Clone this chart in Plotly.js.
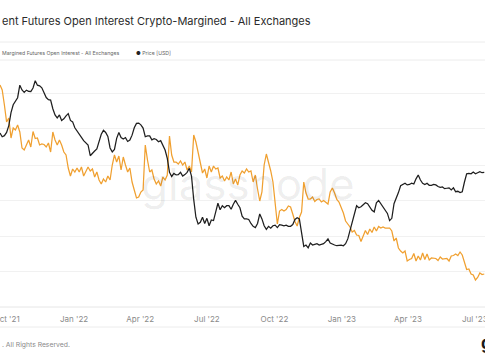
<!DOCTYPE html>
<html>
<head>
<meta charset="utf-8">
<script src="https://cdn.plot.ly/plotly-3.0.1.min.js"></script>
<style>
html,body{margin:0;padding:0;background:#fff;}
#chart{width:485px;height:360px;}
</style>
</head>
<body>
<div id="chart"></div>
<script>
// ---- data (3-day sampling, starting 2021-09-22) ----
const startDate = '2021-09-22';
const stepDays = 3;

// Percent Futures Open Interest Crypto-Margined - All Exchanges [%]
const pctCryptoMargined = [
58.4,57.4,54.4,51.0,51.8,47.8,49.8,49.4,50.4,49.0,
45.8,45.4,46.4,47.4,46.0,49.1,47.7,47.8,46.4,46.6,
46.5,46.0,46.8,45.0,49.0,47.4,46.4,47.4,46.4,45.0,
44.4,41.8,40.2,41.6,41.0,41.8,41.0,42.0,40.2,41.2,
42.0,41.2,41.6,40.0,41.0,39.4,38.6,39.6,39.0,40.2,
39.4,42.4,44.4,43.0,44.2,41.4,44.0,42.4,41.0,41.8,
39.0,37.4,35.8,36.0,37.0,37.4,46.4,43.4,41.0,41.4,
39.6,38.6,39.2,38.2,40.0,39.4,40.4,48.2,44.4,43.0,
43.0,42.6,43.2,42.4,43.0,41.4,42.2,41.0,48.4,47.0,
45.0,43.0,40.8,41.6,39.8,42.2,41.0,42.2,41.6,41.8,
39.8,40.2,39.2,40.0,39.4,41.0,38.6,39.6,38.4,40.4,
41.2,40.8,41.6,41.0,41.2,39.0,40.4,37.6,35.2,37.0,
42.4,44.6,43.0,41.2,39.0,34.4,30.6,33.2,33.5,33.2,
33.5,34.2,34.0,32.6,31.1,30.2,31.9,33.0,39.0,36.8,
35.6,35.6,36.0,35.1,35.5,35.6,35.0,35.3,34.9,34.6,
37.0,37.8,36.8,35.5,35.0,33.9,32.8,31.2,30.7,30.0,
29.0,29.3,28.4,28.3,27.1,28.3,29.3,28.5,29.6,28.9,
30.0,29.2,30.1,29.8,30.0,29.8,29.8,29.8,29.2,27.2,
27.8,25.8,25.2,24.8,25.2,23.2,23.5,23.7,24.7,23.2,
24.2,23.4,24.8,23.5,24.6,23.4,23.8,23.7,23.7,23.3,
24.0,23.6,23.6,23.7,23.2,24.2,24.3,24.6,24.3,25.0,
24.4,22.9,21.5,21.6,20.6,20.4,19.4,19.9,20.8,20.5,
20.6
];

// Price [USD]
const priceUSD = [
43600,42200,42600,43800,46500,52000,55700,57400,59200,66000,
63300,62000,63200,62600,62500,64400,68600,66000,65600,64500,
61500,59300,58200,58000,53800,51000,49700,51000,48600,49300,
50600,51600,48600,48000,45600,44200,43100,42000,40800,40100,
39300,35800,36700,37300,38000,40500,43100,44600,43800,42300,
38300,37000,37800,41600,43800,41900,41400,41900,40500,41000,
42800,45600,47400,47500,46800,45500,42200,42500,42500,41100,
41500,41200,40400,40800,39400,37600,35000,31000,29900,30700,
30300,30400,31000,30000,30400,31000,32100,30000,24500,21000,
19800,20100,21000,19900,20800,19500,20500,20400,22000,23700,
22400,23200,22800,23200,23200,22500,23500,24300,23500,22800,
21200,20700,20700,20600,19900,19400,19200,19900,21600,20700,
19500,18900,19400,19100,19500,19600,19200,19700,19600,19500,
19600,19400,19400,19700,20600,20900,20700,18000,16300,16500,
16100,16800,16500,16600,16700,16500,16600,16700,17000,17400,
16800,16600,16500,16400,16500,16500,16400,16700,17400,18700,
20100,21500,23200,22800,23000,23400,23800,23600,22800,22300,
22000,23800,24300,23600,22900,22400,21700,20400,20800,23600,
24700,26000,27600,27900,28200,27800,27900,28200,28000,29300,
30300,29000,28200,27900,28200,27700,27700,27900,27800,27400,
27200,27300,26900,27000,27100,26600,27100,26200,26300,26000,
26200,28500,30600,30700,30600,31100,30600,30900,31200,30900,
31000
];

const seriesNames = ['Percent Futures Open Interest Crypto-Margined - All Exchanges', 'Price [USD]'];
const xRange = ['2021-09-22', '2023-07-15'];

// ---- build dates ----
function buildDates(n) {
  const out = [];
  const t0 = Date.parse(startDate + 'T00:00:00Z');
  for (let i = 0; i < n; i++) {
    out.push(new Date(t0 + i * stepDays * 86400000).toISOString().slice(0, 10));
  }
  return out;
}
const datesPct = buildDates(pctCryptoMargined.length);
const datesPrice = buildDates(priceUSD.length);

// ---- layout helpers ----
const W = 485, H = 360;
const M = {l: 0, r: 0, t: 62, b: 53};
const plotH = H - M.t - M.b;
const py = p => (H - M.b - p) / plotH;   // pixel y -> paper y

const FONT = 'Inter, "Noto Sans", sans-serif';

const traces = [
  {
    x: datesPrice, y: priceUSD, name: seriesNames[1], yaxis: 'y2',
    type: 'scatter', mode: 'lines',
    line: {color: '#1f1f1f', width: 1.25},
    hoverinfo: 'skip'
  },
  {
    x: datesPct, y: pctCryptoMargined, name: seriesNames[0], yaxis: 'y',
    type: 'scatter', mode: 'lines',
    line: {color: '#f0a030', width: 1.25},
    hoverinfo: 'skip'
  }
];

const layout = {
  width: W, height: H,
  margin: M,
  paper_bgcolor: '#ffffff',
  plot_bgcolor: '#ffffff',
  showlegend: false,
  xaxis: {
    type: 'date',
    range: xRange,
    tick0: '2021-10-01',
    dtick: 'M3',
    tickformat: "%b '%y",
    ticks: '',
    showgrid: false,
    zeroline: false,
    showline: false,
    ticklabeloverflow: 'allow',
    ticklabelstandoff: 6,
    tickfont: {family: FONT, size: 8, color: '#8a8a8a'}
  },
  yaxis: {
    range: [14, 63],
    tickvals: [56.8, 49.8, 42.4, 35.4, 28.2, 21.2],
    showticklabels: false,
    ticks: '',
    showgrid: true,
    gridcolor: '#f1f1f1',
    gridwidth: 1,
    zeroline: false,
    showline: false
  },
  yaxis2: {
    type: 'log',
    overlaying: 'y',
    side: 'right',
    range: [Math.log10(9640), Math.log10(80700)],
    showticklabels: false,
    ticks: '',
    showgrid: false,
    zeroline: false,
    showline: false
  },
  shapes: [
    {type: 'line', xref: 'paper', yref: 'paper', x0: 0, x1: 1, y0: py(42), y1: py(42), line: {color: '#ececec', width: 1}},
    {type: 'line', xref: 'paper', yref: 'paper', x0: 0, x1: 1, y0: py(60), y1: py(60), line: {color: '#ececec', width: 1}},
    {type: 'line', xref: 'paper', yref: 'paper', x0: 0, x1: 1, y0: py(307), y1: py(307), line: {color: '#e6e6e6', width: 1}},
    {type: 'line', xref: 'paper', yref: 'paper', x0: 0, x1: 1, y0: py(327), y1: py(327), line: {color: '#ececec', width: 1}}
  ],
  annotations: [
    {text: 'glassnode', xref: 'paper', yref: 'paper', x: 0.512, y: py(184),
     showarrow: false, font: {family: FONT, size: 44, color: 'rgba(0,0,0,0.07)'}},
    {text: 'ent Futures Open Interest Crypto-Margined - All Exchanges', xref: 'paper', yref: 'paper',
     x: 0, y: py(21), xanchor: 'left', yanchor: 'middle', showarrow: false,
     font: {family: FONT, size: 11, color: '#2b2b2b'}},
    {text: 'Margined Futures Open Interest - All Exchanges', xref: 'paper', yref: 'paper',
     x: 0, y: py(53), xanchor: 'left', yanchor: 'middle', showarrow: false,
     font: {family: FONT, size: 5.2, color: '#666'}},
    {text: '<span style="color:#222">●</span> Price [USD]', xref: 'paper', yref: 'paper',
     x: 134 / W, y: py(53), xanchor: 'left', yanchor: 'middle', showarrow: false,
     font: {family: FONT, size: 5.2, color: '#666'}},
    {text: '. All Rights Reserved.', xref: 'paper', yref: 'paper',
     x: 0, y: py(344), xanchor: 'left', yanchor: 'middle', showarrow: false,
     font: {family: FONT, size: 6.8, color: '#8a8a8a'}},
    {text: '<b>g</b>', xref: 'paper', yref: 'paper',
     x: 479 / W, y: py(343), xanchor: 'left', yanchor: 'middle', showarrow: false,
     font: {family: FONT, size: 17, color: '#1a1a1a'}}
  ]
};

Plotly.newPlot('chart', traces, layout, {staticPlot: true, displayModeBar: false});
</script>
</body>
</html>
